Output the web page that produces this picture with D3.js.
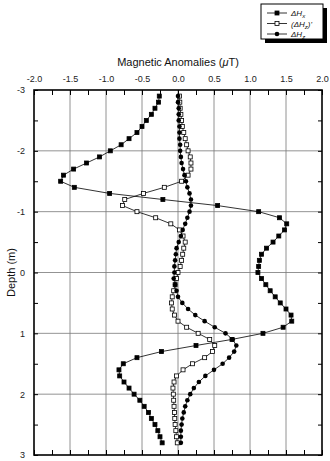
<!DOCTYPE html>
<html>
<head>
<meta charset="utf-8">
<script src="https://cdn.jsdelivr.net/npm/d3@7"></script>
<style>
	body { margin: 0; background: #fff; }
	svg { display: block; font-family: "Liberation Sans", Arial, sans-serif; }
</style>
</head>
<body>
<svg width="330" height="461"></svg>
<script>
// depth (m), one reading every 10 cm
var depths = [-2.9, -2.8, -2.7, -2.6, -2.5, -2.4, -2.3, -2.2, -2.1, -2.0,
	-1.9, -1.8, -1.7, -1.6, -1.5, -1.4, -1.3, -1.2, -1.1, -1.0,
	-0.9, -0.8, -0.7, -0.6, -0.5, -0.4, -0.3, -0.2, -0.1, 0.0,
	0.1, 0.2, 0.3, 0.4, 0.5, 0.6, 0.7, 0.8, 0.9, 1.0,
	1.1, 1.2, 1.3, 1.4, 1.5, 1.6, 1.7, 1.8, 1.9, 2.0,
	2.1, 2.2, 2.3, 2.4, 2.5, 2.6, 2.7, 2.8];

// dHx (uT)
var hx = [-0.26, -0.27, -0.32, -0.37, -0.44, -0.50, -0.57, -0.68, -0.79, -0.94,
	-1.09, -1.27, -1.45, -1.59, -1.63, -1.44, -0.95, -0.21, 0.55, 1.12,
	1.41, 1.51, 1.48, 1.40, 1.32, 1.23, 1.16, 1.13, 1.12, 1.11,
	1.16, 1.22, 1.28, 1.35, 1.42, 1.50, 1.57, 1.58, 1.46, 1.18,
	0.75, 0.25, -0.23, -0.57, -0.76, -0.82, -0.81, -0.75, -0.68, -0.61,
	-0.53, -0.47, -0.41, -0.37, -0.32, -0.28, -0.25, -0.22];

// (dHz)' (uT)
var hzd = [0.02, 0.025, 0.03, 0.04, 0.05, 0.06, 0.08, 0.10, 0.12, 0.14,
	0.17, 0.18, 0.18, 0.14, 0.05, -0.19, -0.48, -0.74, -0.77, -0.57,
	-0.31, -0.10, 0.02, 0.07, 0.10, 0.08, 0.065, 0.05, 0.03, 0.0,
	-0.02, -0.04, -0.06, -0.08, -0.09, -0.08, -0.05, 0.0, 0.12, 0.28,
	0.44, 0.51, 0.48, 0.37, 0.20, 0.07, -0.02, -0.055, -0.07, -0.065,
	-0.06, -0.055, -0.05, -0.045, -0.04, -0.03, -0.02, -0.01];

// dHz (uT)
var hz = [0.0, 0.0, 0.01, 0.01, 0.01, 0.02, 0.02, 0.02, 0.03, 0.03,
	0.04, 0.05, 0.07, 0.09, 0.11, 0.13, 0.16, 0.18, 0.18, 0.16,
	0.13, 0.10, 0.065, 0.04, 0.01, -0.02, -0.03, -0.04, -0.05, -0.05,
	-0.06, -0.04, -0.02, 0.0, 0.06, 0.14, 0.24, 0.37, 0.51, 0.66,
	0.76, 0.81, 0.78, 0.71, 0.62, 0.50, 0.38, 0.29, 0.22, 0.17,
	0.13, 0.10, 0.08, 0.06, 0.05, 0.04, 0.04, 0.04];

var xTicks = [-2.0, -1.5, -1.0, -0.5, 0.0, 0.5, 1.0, 1.5, 2.0];
var yTicks = [-3, -2, -1, 0, 1, 2, 3];

function draw() {
	var svg = d3.select("svg");
	var left = 34, right = 322, top = 90, bottom = 455;

	var x = d3.scaleLinear().domain([-2, 2]).range([left, right]);
	var y = d3.scaleLinear().domain([-3, 3]).range([top, bottom]);

	// grid
	svg.append("g")
		.selectAll("line")
		.data(xTicks.slice(1, -1))
		.enter()
		.append("line")
		.attr("x1", d => x(d)).attr("x2", d => x(d))
		.attr("y1", top).attr("y2", bottom)
		.attr("stroke", "#777").attr("stroke-width", 0.8);
	svg.append("g")
		.selectAll("line")
		.data(yTicks.slice(1, -1))
		.enter()
		.append("line")
		.attr("x1", left).attr("x2", right)
		.attr("y1", d => y(d)).attr("y2", d => y(d))
		.attr("stroke", "#777").attr("stroke-width", 0.8);

	// inward ticks every 0.25 on top/bottom, every 0.5 on sides
	var minorX = d3.range(-2, 2.001, 0.25);
	var minorY = d3.range(-3, 3.001, 0.5);
	svg.append("g").attr("transform", "translate(0," + top + ")")
		.call(d3.axisBottom(x).tickValues(minorX).tickSize(5).tickFormat(""))
		.call(g => g.select(".domain").remove());
	svg.append("g").attr("transform", "translate(0," + bottom + ")")
		.call(d3.axisTop(x).tickValues(minorX).tickSize(5).tickFormat(""))
		.call(g => g.select(".domain").remove());
	svg.append("g").attr("transform", "translate(" + left + ",0)")
		.call(d3.axisRight(y).tickValues(minorY).tickSize(4).tickFormat(""))
		.call(g => g.select(".domain").remove());
	svg.append("g").attr("transform", "translate(" + right + ",0)")
		.call(d3.axisLeft(y).tickValues(minorY).tickSize(4).tickFormat(""))
		.call(g => g.select(".domain").remove());

	// tick labels
	svg.append("g").attr("transform", "translate(0," + top + ")")
		.call(d3.axisTop(x).tickValues(xTicks).tickSize(0).tickPadding(8).tickFormat(d => d.toFixed(1)))
		.call(g => g.select(".domain").remove())
		.selectAll("text").attr("font-size", 9).attr("fill", "#222");
	svg.append("g").attr("transform", "translate(" + left + ",0)")
		.call(d3.axisLeft(y).tickValues(yTicks).tickSize(0).tickPadding(9).tickFormat(d => String(d)))
		.call(g => g.select(".domain").remove())
		.selectAll("text").attr("font-size", 9).attr("fill", "#222");

	// frame
	svg.append("rect")
		.attr("x", left).attr("y", top)
		.attr("width", right - left).attr("height", bottom - top)
		.attr("fill", "none").attr("stroke", "#000").attr("stroke-width", 1.6);

	// titles
	var t = svg.append("text")
		.attr("x", x(0)).attr("y", 66)
		.attr("text-anchor", "middle")
		.attr("font-size", 11).attr("fill", "#111");
	t.append("tspan").text("Magnetic Anomalies (");
	t.append("tspan").attr("font-style", "italic").text("\u03bc");
	t.append("tspan").text("T)");

	svg.append("text")
		.attr("transform", "translate(15," + y(0) + ") rotate(-90)")
		.attr("text-anchor", "middle")
		.attr("font-size", 11).attr("fill", "#111")
		.text("Depth (m)");

	var series = [
		{name: "hx", values: hx, marker: "square", fill: "#000"},
		{name: "hzd", values: hzd, marker: "square", fill: "#fff"},
		{name: "hz", values: hz, marker: "circle", fill: "#000"}
	];

	var line = d3.line()
		.x(d => x(d[0]))
		.y(d => y(d[1]));

	series.forEach(s => {
		var pts = depths.map((dep, i) => [s.values[i], dep]);
		var g = svg.append("g").attr("class", s.name);
		g.append("path")
			.attr("d", line(pts))
			.attr("fill", "none")
			.attr("stroke", "#000")
			.attr("stroke-width", 0.8);
		if (s.marker === "square") {
			g.selectAll("rect")
				.data(pts)
				.enter()
				.append("rect")
				.attr("x", d => x(d[0]) - 2)
				.attr("y", d => y(d[1]) - 2)
				.attr("width", 4).attr("height", 4)
				.attr("fill", s.fill)
				.attr("stroke", "#000").attr("stroke-width", 0.8);
		} else {
			g.selectAll("circle")
				.data(pts)
				.enter()
				.append("circle")
				.attr("cx", d => x(d[0]))
				.attr("cy", d => y(d[1]))
				.attr("r", 2.3)
				.attr("fill", s.fill);
		}
	});

	// legend
	var lg = svg.append("g").attr("transform", "translate(261,4)");
	lg.append("rect").attr("x", 4).attr("y", 4).attr("width", 62).attr("height", 35).attr("fill", "#000");
	lg.append("rect").attr("x", 0).attr("y", 0).attr("width", 62).attr("height", 35)
		.attr("fill", "#fff").attr("stroke", "#000").attr("stroke-width", 1);

	var labels = [
		{pre: "\u0394", sub: "x", post: "", marker: "square", fill: "#000"},
		{pre: "(\u0394", sub: "z", post: ")'", marker: "square", fill: "#fff"},
		{pre: "\u0394", sub: "z", post: "", marker: "circle", fill: "#000"}
	];
	labels.forEach((l, i) => {
		var yy = 9 + i * 10.5;
		lg.append("line").attr("x1", 6).attr("x2", 26).attr("y1", yy).attr("y2", yy)
			.attr("stroke", "#000").attr("stroke-width", 0.8);
		if (l.marker === "square") {
			lg.append("rect").attr("x", 16 - 2).attr("y", yy - 2).attr("width", 4).attr("height", 4)
				.attr("fill", l.fill).attr("stroke", "#000").attr("stroke-width", 0.8);
		} else {
			lg.append("circle").attr("cx", 16).attr("cy", yy).attr("r", 2.3).attr("fill", l.fill);
		}
		var tx = lg.append("text").attr("x", 30).attr("y", yy + 3)
			.attr("font-size", 8).attr("font-style", "italic").attr("fill", "#111");
		tx.append("tspan").text(l.pre + "H");
		tx.append("tspan").attr("font-size", 6).attr("dy", 2).text(l.sub);
		if (l.post) tx.append("tspan").attr("dy", -2).text(l.post);
	});
}

window.addEventListener('DOMContentLoaded', draw);
</script>
</body>
</html>
